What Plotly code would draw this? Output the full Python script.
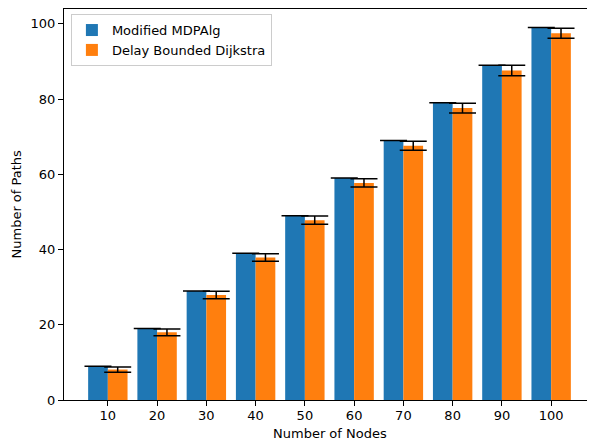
import plotly.graph_objects as go

nodes = [10, 20, 30, 40, 50, 60, 70, 80, 90, 100]
mdpalg_paths = [9, 19, 29, 39, 49, 59, 69, 79, 89, 99]
mdpalg_err = [0, 0, 0, 0, 0, 0, 0, 0, 0, 0]
dijkstra_paths = [8.1, 18.0, 27.9, 37.9, 47.8, 57.7, 67.6, 77.6, 87.6, 97.5]
dijkstra_err = [0.7, 0.9, 1.0, 1.0, 1.1, 1.1, 1.2, 1.3, 1.4, 1.3]

err_style = dict(type="data", visible=True, color="black", thickness=1.5, width=13.5)

fig = go.Figure()
fig.add_trace(go.Bar(
    x=nodes, y=mdpalg_paths, name="Modified MDPAlg",
    marker=dict(color="#1f77b4", line=dict(width=0)),
    error_y=dict(array=mdpalg_err, **err_style),
))
fig.add_trace(go.Bar(
    x=nodes, y=dijkstra_paths, name="Delay Bounded Dijkstra",
    marker=dict(color="#ff7f0e", line=dict(width=0)),
    error_y=dict(array=dijkstra_err, **err_style),
))

font = dict(family="DejaVu Sans", size=13, color="black")
# the page body has an 8px margin, so the figure is shifted by (8, 8)
fig.update_layout(
    width=587, height=435,
    margin=dict(l=56, r=0, t=1, b=43),
    barmode="group", bargap=0.2, bargroupgap=0,
    plot_bgcolor="white", paper_bgcolor="white",
    font=font,
    showlegend=True,
    legend=dict(
        x=0.013, y=0.987, xanchor="left", yanchor="top",
        bgcolor="rgba(255,255,255,0.8)", bordercolor="#cccccc", borderwidth=1,
        font=font,
    ),
    xaxis=dict(
        range=[1.1, 108.9], tickmode="array", tickvals=nodes,
        ticktext=[str(n) for n in nodes],
        showgrid=False, zeroline=False, automargin=False,
        showline=True, mirror=True, linecolor="black", linewidth=1,
        ticks="outside", ticklen=5, tickcolor="black", ticklabelstandoff=-2,
    ),
    yaxis=dict(
        range=[0, 103.95], tickmode="array", tickvals=[0, 20, 40, 60, 80, 100],
        showgrid=False, zeroline=False, automargin=False,
        showline=True, mirror=True, linecolor="black", linewidth=1,
        ticks="outside", ticklen=5, tickcolor="black",
    ),
    annotations=[
        dict(text="Number of Nodes", xref="paper", yref="paper", x=0.5, y=0,
             yshift=-33, xanchor="center", yanchor="middle", showarrow=False, font=font),
        dict(text="Number of Paths", xref="paper", yref="paper", x=0, y=0.5,
             xshift=-48, xanchor="center", yanchor="middle", textangle=-90,
             showarrow=False, font=font),
    ],
)

fig.write_html("out.html")
